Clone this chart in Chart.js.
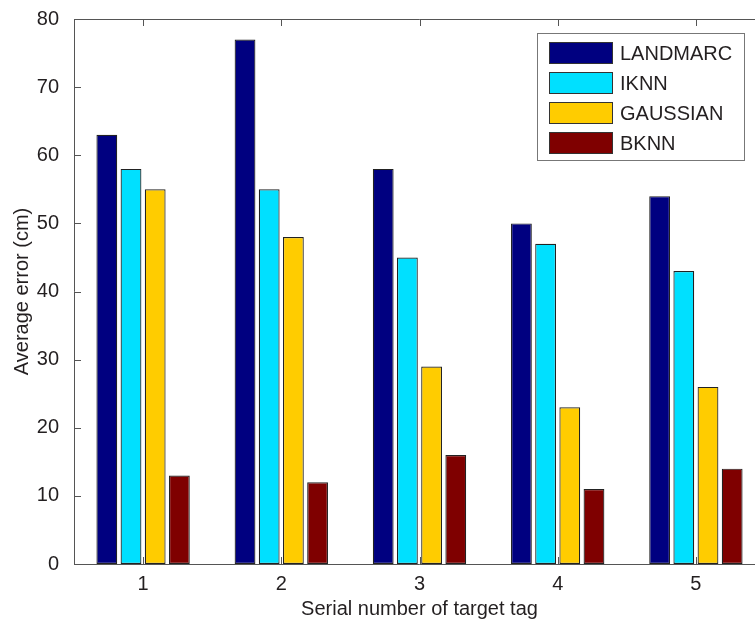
<!DOCTYPE html>
<html>
<head>
<meta charset="UTF-8">
<script src="https://cdn.jsdelivr.net/npm/chart.js@4.4.1/dist/chart.umd.min.js"></script>
<style>
  html, body { margin: 0; padding: 0; background: #fff; overflow: hidden; }
  #wrap { width: 770px; height: 621px; }
</style>
</head>
<body>
<div id="wrap"><canvas id="myChart" width="770" height="621"></canvas></div>
<script>
// data
const tags = ['1', '2', '3', '4', '5'];
const landmarc = [63, 77, 58, 50, 54];
const iknn = [58, 55, 45, 47, 43];
const gaussian = [55, 48, 29, 23, 26];
const bknn = [13, 12, 16, 11, 14];
const yTicks = [0, 10, 20, 30, 40, 50, 60, 70, 80];

const FONT = 'Liberation Sans, Arial, Helvetica, sans-serif';
const AXIS = '#555';

// MATLAB style box: axis lines plus inward ticks, and the legend box
const boxPlugin = {
    id: 'matlabBox',
    afterDatasetsDraw(chart) {
        const {ctx, chartArea: a, scales: {x, y}} = chart;
        ctx.save();
        ctx.strokeStyle = AXIS;
        ctx.lineWidth = 1;
        ctx.beginPath();
        ctx.moveTo(a.left + 0.5, a.top + 0.5);
        ctx.lineTo(a.right, a.top + 0.5);
        ctx.moveTo(a.left + 0.5, a.top);
        ctx.lineTo(a.left + 0.5, a.bottom + 0.5);
        ctx.lineTo(a.right, a.bottom + 0.5);
        ctx.moveTo(a.right - 0.5, a.top);
        ctx.lineTo(a.right - 0.5, a.bottom);
        yTicks.forEach(v => {
            const py = Math.round(y.getPixelForValue(v)) + 0.5;
            ctx.moveTo(a.left, py); ctx.lineTo(a.left + 7, py);
            ctx.moveTo(a.right, py); ctx.lineTo(a.right - 7, py);
        });
        tags.forEach((t, i) => {
            const px = Math.round(x.getPixelForValue(i)) + 0.5;
            ctx.moveTo(px, a.bottom); ctx.lineTo(px, a.bottom - 7);
            ctx.moveTo(px, a.top); ctx.lineTo(px, a.top + 7);
        });
        ctx.stroke();

        // legend
        const lx = 537, ly = 33, lw = 207, lh = 127;
        ctx.fillStyle = '#fff';
        ctx.fillRect(lx, ly, lw, lh);
        ctx.strokeStyle = '#777';
        ctx.strokeRect(lx + 0.5, ly + 0.5, lw, lh);
        ctx.font = '20px ' + FONT;
        ctx.textBaseline = 'middle';
        chart.data.datasets.forEach((ds, i) => {
            const cy = 53 + i * 30;
            ctx.fillStyle = ds.backgroundColor;
            ctx.fillRect(549, cy - 11, 64, 22);
            ctx.strokeStyle = '#333';
            ctx.strokeRect(549.5, cy - 10.5, 63, 21);
            ctx.fillStyle = '#231f20';
            ctx.fillText(ds.label, 620, cy + 1);
        });
        ctx.restore();
    }
};

const ctx = document.getElementById('myChart').getContext('2d');
const mk = (label, data, color) => ({
    label: label,
    data: data,
    backgroundColor: color,
    borderColor: '#222',
    borderWidth: 1.2,
    borderSkipped: false,
    categoryPercentage: 0.7,
    barPercentage: 0.86
});

const chart = new Chart(ctx, {
    type: 'bar',
    data: {
        labels: tags,
        datasets: [
            mk('LANDMARC', landmarc, '#000080'),
            mk('IKNN', iknn, '#00E0FF'),
            mk('GAUSSIAN', gaussian, '#FFCC00'),
            mk('BKNN', bknn, '#7F0000')
        ]
    },
    options: {
        responsive: false,
        animation: false,
        devicePixelRatio: 1,
        layout: { padding: { top: 18, right: 5, left: 0, bottom: 0 } },
        plugins: {
            legend: { display: false },
            tooltip: { enabled: false }
        },
        scales: {
            x: {
                grid: { display: false },
                border: { display: false },
                ticks: { color: '#231f20', font: { family: FONT, size: 20 }, padding: 0 },
                title: {
                    display: true,
                    text: 'Serial number of target tag',
                    color: '#231f20',
                    font: { family: FONT, size: 20 },
                    padding: { top: 0, bottom: 0 }
                },
                afterFit: s => { s.height = 57; }
            },
            y: {
                min: 0,
                max: 80,
                grid: { display: false },
                border: { display: false },
                ticks: {
                    stepSize: 10,
                    color: '#231f20',
                    font: { family: FONT, size: 20 },
                    padding: 7
                },
                title: {
                    display: true,
                    text: 'Average error (cm)',
                    color: '#231f20',
                    font: { family: FONT, size: 20 },
                    padding: { top: 10, bottom: 0 }
                },
                afterFit: s => { s.width = 74; }
            }
        }
    },
    plugins: [boxPlugin]
});
</script>
</body>
</html>
